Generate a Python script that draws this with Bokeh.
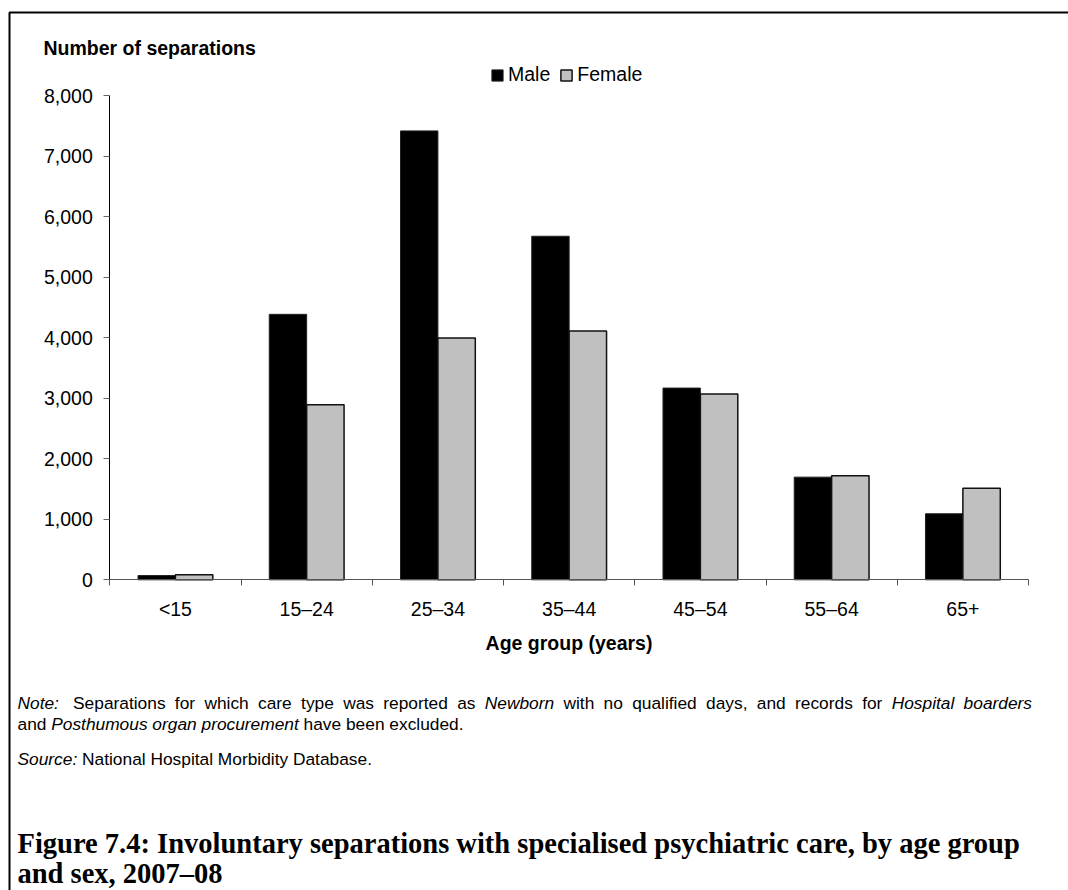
import re
from bokeh.plotting import figure
from bokeh.models import (Range1d, LinearAxis, FixedTicker,
                          NumeralTickFormatter, Label, Legend, LegendItem, BoxAnnotation,
                          ColumnDataSource)
from bokeh.transform import dodge
from bokeh.embed import file_html
from bokeh.resources import INLINE

# ---------------- data ----------------
age_groups = ["<15", "15–24", "25–34", "35–44", "45–54", "55–64", "65+"]
male = [70, 4385, 7415, 5675, 3167, 1696, 1091]
female = [85, 2893, 3993, 4110, 3068, 1719, 1514]
y_ticks = [0, 1000, 2000, 3000, 4000, 5000, 6000, 7000, 8000]
series_names = ["Male", "Female"]

y_title = "Number of separations"
x_title = "Age group (years)"
note_line1 = [("Note:", True), ("  Separations for which care type was reported as ", False),
              ("Newborn", True), (" with no qualified days, and records for ", False),
              ("Hospital boarders", True)]
note_line2 = [("and ", False), ("Posthumous organ procurement", True), (" have been excluded.", False)]
source_line = [("Source:", True), (" National Hospital Morbidity Database.", False)]
title_lines = ["Figure 7.4: Involuntary separations with specialised psychiatric care, by age group",
               "and sex, 2007–08"]

# ---------------- layout ----------------
FIG_W, FIG_H = 1068, 890
# chart area on the page (pixels)
PX_L, PX_R, PX_T, PX_B = 109.3, 1028.0, 95.0, 579.3
n = len(age_groups)
Y_MAX = y_ticks[-1]
x_per_px = n / (PX_R - PX_L)
y_per_px = Y_MAX / (PX_B - PX_T)

def fx(X):  # page x -> screen units (frame == whole canvas)
    return X

def fy(Y):  # page y -> screen units measured from the bottom
    return FIG_H - Y

SANS = "Liberation Sans"
SERIF = "Liberation Serif"
FS = "19.5px"

p = figure(x_range=Range1d(-PX_L * x_per_px, n + (FIG_W - PX_R) * x_per_px),
           y_range=Range1d(-(FIG_H - PX_B) * y_per_px, Y_MAX + PX_T * y_per_px),
           width=FIG_W, height=FIG_H, output_backend="svg", toolbar_location=None,
           x_axis_location=None, y_axis_location=None,
           min_border=0, min_border_left=0, min_border_right=0,
           min_border_top=0, min_border_bottom=0)
p.outline_line_color = None
p.xgrid.grid_line_color = None
p.ygrid.grid_line_color = None
p.background_fill_color = "white"
p.border_fill_color = "white"

centers = [i + 0.5 for i in range(n)]
src = ColumnDataSource(dict(xc=centers, cat=age_groups, male=male, female=female))
r_m = p.vbar(x=dodge("xc", -0.1425), top="male", width=0.285, source=src,
             fill_color="black", line_color="#222222", line_width=1)
r_f = p.vbar(x=dodge("xc", 0.1425), top="female", width=0.285, source=src,
             fill_color="#C0C0C0", line_color="#111111", line_width=1.5)

# y axis
yaxis = LinearAxis(ticker=FixedTicker(ticks=y_ticks), formatter=NumeralTickFormatter(format="0,0"),
                   fixed_location=0, bounds=(0, Y_MAX))
yaxis.axis_line_color = "black"
yaxis.major_tick_line_color = "#666666"
yaxis.major_tick_out = 6
yaxis.major_tick_in = 0
yaxis.minor_tick_line_color = None
yaxis.major_label_text_font = SANS
yaxis.major_label_text_font_size = FS
yaxis.major_label_text_color = "black"
yaxis.major_label_standoff = 11
p.add_layout(yaxis, "left")

# x axis: labels at category centres, ticks at category boundaries
xaxis = LinearAxis(ticker=FixedTicker(ticks=centers, minor_ticks=list(range(n + 1))),
                   fixed_location=0, bounds=(0, n))
xaxis.major_label_overrides = {c: lab for c, lab in zip(centers, age_groups)}
xaxis.axis_line_color = "#555555"
xaxis.major_tick_line_color = None
xaxis.major_tick_out = 0
xaxis.major_tick_in = 0
xaxis.minor_tick_line_color = "#555555"
xaxis.minor_tick_out = 6
xaxis.minor_tick_in = 0
xaxis.major_label_text_font = SANS
xaxis.major_label_text_font_size = FS
xaxis.major_label_text_color = "black"
xaxis.major_label_standoff = 12
xaxis.axis_label = x_title
xaxis.axis_label_text_font = SANS
xaxis.axis_label_text_font_size = FS
xaxis.axis_label_text_font_style = "bold"
xaxis.axis_label_text_color = "black"
xaxis.axis_label_standoff = 9
p.add_layout(xaxis, "below")

# legend
legend = Legend(items=[LegendItem(label=series_names[0], renderers=[r_m]),
                       LegendItem(label=series_names[1], renderers=[r_f])],
                orientation="horizontal", location=(fx(490), fy(86)))
legend.glyph_width = 14
legend.glyph_height = 14
legend.label_height = 20
legend.label_standoff = 4
legend.spacing = 9
legend.padding = 0
legend.margin = 0
legend.background_fill_alpha = 0
legend.border_line_color = None
legend.label_text_font = SANS
legend.label_text_font_size = FS
legend.label_text_color = "black"
p.add_layout(legend, "center")

# y title
p.add_layout(Label(x=fx(43), y=fy(47.5), x_units="screen", y_units="screen", text=y_title,
                   text_font=SANS, text_font_size=FS, text_font_style="bold",
                   text_baseline="middle", text_align="left", text_color="black"))

# text widths (Helvetica/Arial metrics, per 1000 em)
W = {' ': 278, ',': 278, '.': 278, ':': 278, '(': 333, ')': 333, '–': 556, '-': 333,
     'A': 667, 'B': 667, 'C': 722, 'D': 722, 'E': 667, 'F': 611, 'G': 778, 'H': 722, 'I': 278,
     'J': 500, 'K': 667, 'L': 556, 'M': 833, 'N': 722, 'O': 778, 'P': 667, 'Q': 778, 'R': 722,
     'S': 667, 'T': 611, 'U': 722, 'V': 667, 'W': 944, 'X': 667, 'Y': 667, 'Z': 611,
     'a': 556, 'b': 556, 'c': 500, 'd': 556, 'e': 556, 'f': 278, 'g': 556, 'h': 556, 'i': 222,
     'j': 222, 'k': 500, 'l': 222, 'm': 833, 'n': 556, 'o': 556, 'p': 556, 'q': 556, 'r': 333,
     's': 500, 't': 278, 'u': 556, 'v': 500, 'w': 722, 'x': 500, 'y': 500, 'z': 500}

def tw(s, size):
    return sum(W.get(c, 556) for c in s) * size / 1000.0

NOTE_SIZE = 17.33

def add_text(x, yb, text, italic, size):
    p.add_layout(Label(x=fx(x), y=fy(yb), x_units="screen", y_units="screen", text=text,
                       text_font=SANS, text_font_size=f"{size}px",
                       text_font_style="italic" if italic else "normal",
                       text_baseline="alphabetic", text_align="left", text_color="black"))

def seg_line(segments, X0, Yb, size):
    x = X0
    for text, italic in segments:
        lead = len(text) - len(text.lstrip(" "))
        x += tw(" " * lead, size)
        core = text.strip(" ")
        if core:
            add_text(x, Yb, core, italic, size)
        x += tw(core, size)
        trail = len(text) - len(text.rstrip(" "))
        x += tw(" " * trail, size) if core else 0

def justified_line(segments, X0, X1, Yb, size):
    tokens = []
    pending = 0
    for text, italic in segments:
        for part in re.split(r"( +)", text):
            if not part:
                continue
            if part.startswith(" "):
                pending += len(part)
            else:
                tokens.append((part, italic, pending))
                pending = 0
    natural = sum(tw(w, size) for w, _, _ in tokens) + \
        sum(tw(" " * s, size) for _, _, s in tokens[1:])
    extra = (X1 - X0 - natural) / max(1, len(tokens) - 1)
    x = X0
    for k, (w, it, s) in enumerate(tokens):
        if k > 0:
            x += tw(" " * s, size) + extra
        add_text(x, Yb, w, it, size)
        x += tw(w, size)

justified_line(note_line1, 17, 1031.5, 702, NOTE_SIZE)
seg_line(note_line2, 17, 723, NOTE_SIZE)
seg_line(source_line, 17, 758, NOTE_SIZE)

for i, t in enumerate(title_lines):
    p.add_layout(Label(x=fx(17), y=fy(843 + 30 * i), x_units="screen", y_units="screen", text=t,
                       text_font=SERIF, text_font_size="28.5px", text_font_style="bold",
                       text_baseline="alphabetic", text_align="left", text_color="black"))

# outer frame (left and top edges visible)
p.add_layout(BoxAnnotation(left=fx(9), right=fx(FIG_W + 100), top=fy(12), bottom=fy(FIG_H + 100),
                           left_units="screen", right_units="screen",
                           top_units="screen", bottom_units="screen",
                           fill_color=None, fill_alpha=0, line_color="black", line_alpha=1.0,
                           line_width=2, level="overlay"))

open("out.html", "w").write(file_html(p, INLINE))
